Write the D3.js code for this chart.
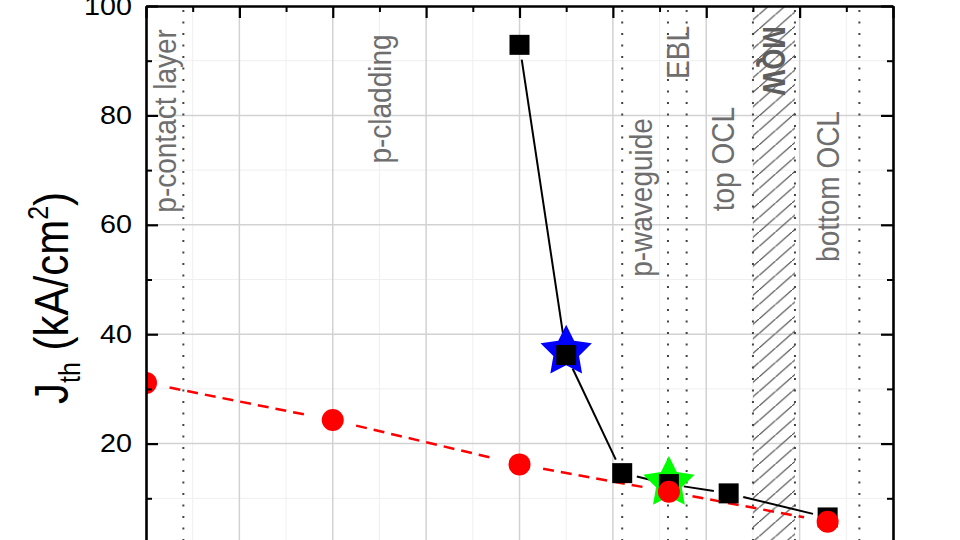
<!DOCTYPE html>
<html>
<head>
<meta charset="utf-8">
<script src="https://cdn.jsdelivr.net/npm/d3@7"></script>
<style>
  html, body { margin: 0; padding: 0; background: #fff; }
  svg { display: block; font-family: "Liberation Sans", Arial, sans-serif; }
</style>
</head>
<body>
<div id="chart"></div>
<script>
// measured series (x in layer-position units, y in kA/cm2)
const redX = [0, 2.0, 4.0, 5.6, 7.3];
const redY = [31.1, 24.3, 16.2, 11.2, 5.7];
const blackX = [4.0, 4.5, 5.1, 5.6, 6.24, 7.3];
const blackY = [92.9, 36.2, 14.6, 12.6, 10.9, 6.5];
const blueStar = [4.5, 36.8];
const greenStar = [5.6, 12.8];

// layer boundaries (dotted lines) and labels
const boundaries = [0.4, 5.1, 5.59, 5.79, 6.5, 6.95, 7.64];
const mqwBand = [6.5, 6.95];
const layerNames = ["p-contact layer", "p-cladding", "p-waveguide", "EBL", "top OCL", "MQW", "bottom OCL"];
const layerLabelX = [0.2, 2.5, 5.3, 5.69, 6.18, 6.72, 7.3];
const layerLabelY = [79, 83, 65, 91.5, 72, 90, 67];

const yTicks = [0, 20, 40, 60, 80, 100];
const yMinor = [10, 30, 50, 70, 90];
const xTicks = [0, 1, 2, 3, 4, 5, 6, 7, 8];
const xMinor = [0.5, 1.5, 2.5, 3.5, 4.5, 5.5, 6.5, 7.5];

const W = 960, H = 540;
const x = d3.scaleLinear().domain([0, 8]).range([146, 893]);
const y = d3.scaleLinear().domain([0, 100]).range([553, 6]);
const stretch = 1.15;

const svg = d3.select("#chart").append("svg")
  .attr("width", W).attr("height", H);

const defs = svg.append("defs");
defs.append("clipPath").attr("id", "plotClip")
  .append("rect")
  .attr("x", x(0)).attr("y", y(100))
  .attr("width", x(8) - x(0)).attr("height", y(0) - y(100));

const hatch = defs.append("pattern").attr("id", "hatch")
  .attr("patternUnits", "userSpaceOnUse")
  .attr("width", 16.5).attr("height", 14.5);
hatch.append("line")
  .attr("x1", 0).attr("y1", 14.5).attr("x2", 16.5).attr("y2", 0)
  .attr("stroke", "#4a4a4a").attr("stroke-width", 1.2);

// grid
const grid = svg.append("g");
grid.selectAll(".gx-minor").data(xMinor).join("line")
  .attr("x1", d => x(d)).attr("x2", d => x(d))
  .attr("y1", y(100)).attr("y2", y(0))
  .attr("stroke", "#efefef").attr("stroke-width", 1);
grid.selectAll(".gy-minor").data(yMinor).join("line")
  .attr("y1", d => y(d)).attr("y2", d => y(d))
  .attr("x1", x(0)).attr("x2", x(8))
  .attr("stroke", "#efefef").attr("stroke-width", 1);
grid.selectAll(".gx").data(xTicks.slice(1, -1)).join("line")
  .attr("x1", d => x(d)).attr("x2", d => x(d))
  .attr("y1", y(100)).attr("y2", y(0))
  .attr("stroke", "#d2d2d2").attr("stroke-width", 1.5);
grid.selectAll(".gy").data(yTicks.slice(1, -1)).join("line")
  .attr("y1", d => y(d)).attr("y2", d => y(d))
  .attr("x1", x(0)).attr("x2", x(8))
  .attr("stroke", "#d2d2d2").attr("stroke-width", 1.5);

// MQW hatched band
svg.append("rect")
  .attr("x", x(mqwBand[0])).attr("y", y(100))
  .attr("width", x(mqwBand[1]) - x(mqwBand[0]))
  .attr("height", y(0) - y(100))
  .attr("fill", "url(#hatch)");

// dotted layer boundaries
svg.append("g").selectAll("line").data(boundaries).join("line")
  .attr("x1", d => x(d)).attr("x2", d => x(d))
  .attr("y1", y(100) + 4).attr("y2", y(0))
  .attr("stroke", "#444").attr("stroke-width", 2)
  .attr("stroke-dasharray", "2,9.5");

// layer labels
svg.append("g").selectAll("text").data(layerNames).join("text")
  .attr("transform", (d, i) => `translate(${x(layerLabelX[i])},${y(layerLabelY[i])}) scale(${stretch},1) rotate(${d === "MQW" ? 90 : -90})`)
  .attr("text-anchor", "middle")
  .attr("dominant-baseline", "central")
  .attr("font-size", d => d === "MQW" ? 27 : 28)
  .attr("font-weight", d => d === "MQW" ? "bold" : "normal")
  .attr("fill", d => d === "MQW" ? "#5e5e5e" : "#6e6e6e")
  .text(d => d);

// lines with gaps around markers, like the original plotting program
function gappedSegments(xs, ys, gap) {
  const segs = [];
  for (let i = 0; i < xs.length - 1; i++) {
    const x1 = x(xs[i]), y1 = y(ys[i]), x2 = x(xs[i + 1]), y2 = y(ys[i + 1]);
    const len = Math.hypot(x2 - x1, y2 - y1);
    const ux = (x2 - x1) / len, uy = (y2 - y1) / len;
    segs.push([x1 + ux * gap, y1 + uy * gap, x2 - ux * gap, y2 - uy * gap]);
  }
  return segs;
}

const plot = svg.append("g").attr("clip-path", "url(#plotClip)");

plot.selectAll(".red-seg").data(gappedSegments(redX, redY, 24)).join("line")
  .attr("x1", d => d[0]).attr("y1", d => d[1])
  .attr("x2", d => d[2]).attr("y2", d => d[3])
  .attr("stroke", "#ff0000").attr("stroke-width", 2.5)
  .attr("stroke-dasharray", "11,7");

plot.selectAll(".black-seg").data(gappedSegments(blackX, blackY, 15)).join("line")
  .attr("x1", d => d[0]).attr("y1", d => d[1])
  .attr("x2", d => d[2]).attr("y2", d => d[3])
  .attr("stroke", "#000").attr("stroke-width", 2);

// fatter five-point star than d3.symbolStar
const fatStar = {
  draw(context, size) {
    const R = Math.sqrt(size), r = R * 0.5;
    for (let i = 0; i < 10; i++) {
      const a = -Math.PI / 2 + i * Math.PI / 5;
      const rad = i % 2 ? r : R;
      const px = Math.cos(a) * rad, py = Math.sin(a) * rad;
      if (i === 0) context.moveTo(px, py); else context.lineTo(px, py);
    }
    context.closePath();
  }
};
const star = d3.symbol().type(fatStar).size(27 * 27);
plot.append("path")
  .attr("d", star())
  .attr("transform", `translate(${x(blueStar[0])},${y(blueStar[1])})`)
  .attr("fill", "#0000ff");
plot.append("path")
  .attr("d", star())
  .attr("transform", `translate(${x(greenStar[0])},${y(greenStar[1])})`)
  .attr("fill", "#00ff00");

const sq = 20;
plot.selectAll(".sq").data(blackX).join("rect")
  .attr("x", d => x(d) - sq / 2)
  .attr("y", (d, i) => y(blackY[i]) - sq / 2)
  .attr("width", sq).attr("height", sq)
  .attr("fill", "#000");

plot.selectAll(".dot").data(redX).join("circle")
  .attr("cx", d => x(d))
  .attr("cy", (d, i) => y(redY[i]))
  .attr("r", 11)
  .attr("fill", "#ff0000");

// axes
function styleAxis(g) {
  g.select(".domain").attr("stroke", "#000").attr("stroke-width", 2.6);
  g.selectAll(".tick line").attr("stroke", "#000").attr("stroke-width", 2.2);
}

const yAxis = svg.append("g")
  .attr("transform", `translate(${x(0)},0)`)
  .call(d3.axisLeft(y).tickValues(yTicks).tickSize(-12).tickPadding(14).tickSizeOuter(0));
styleAxis(yAxis);
yAxis.selectAll(".tick text")
  .attr("font-size", 25)
  .attr("font-family", "Liberation Sans, Arial, sans-serif")
  .attr("fill", "#000")
  .attr("x", -14 / stretch)
  .attr("transform", `scale(${stretch},1)`);

svg.append("g")
  .attr("transform", `translate(${x(0)},0)`)
  .call(d3.axisLeft(y).tickValues(yMinor).tickSize(-6).tickFormat(""))
  .call(g => { g.select(".domain").remove(); g.selectAll("line").attr("stroke", "#000").attr("stroke-width", 2); });

const rAxis = svg.append("g")
  .attr("transform", `translate(${x(8)},0)`)
  .call(d3.axisRight(y).tickValues(yTicks).tickSize(-12).tickFormat("").tickSizeOuter(0));
styleAxis(rAxis);
svg.append("g")
  .attr("transform", `translate(${x(8)},0)`)
  .call(d3.axisRight(y).tickValues(yMinor).tickSize(-6).tickFormat(""))
  .call(g => { g.select(".domain").remove(); g.selectAll("line").attr("stroke", "#000").attr("stroke-width", 2); });

const tAxis = svg.append("g")
  .attr("transform", `translate(0,${y(100)})`)
  .call(d3.axisTop(x).tickValues(xTicks).tickSize(-12).tickFormat("").tickSizeOuter(0));
styleAxis(tAxis);
svg.append("g")
  .attr("transform", `translate(0,${y(100)})`)
  .call(d3.axisTop(x).tickValues(xMinor).tickSize(-6).tickFormat(""))
  .call(g => { g.select(".domain").remove(); g.selectAll("line").attr("stroke", "#000").attr("stroke-width", 2); });

// y title
const title = svg.append("text")
  .attr("transform", `translate(68,404) scale(${stretch},1) rotate(-90)`)
  .attr("font-size", 42)
  .attr("fill", "#000");
title.append("tspan").text("J");
title.append("tspan").attr("font-size", 25).attr("dy", 10).text("th");
title.append("tspan").attr("dy", -10).text(" (kA/cm");
title.append("tspan").attr("font-size", 25).attr("dy", -17).text("2");
title.append("tspan").attr("dy", 17).text(")");
</script>
</body>
</html>
